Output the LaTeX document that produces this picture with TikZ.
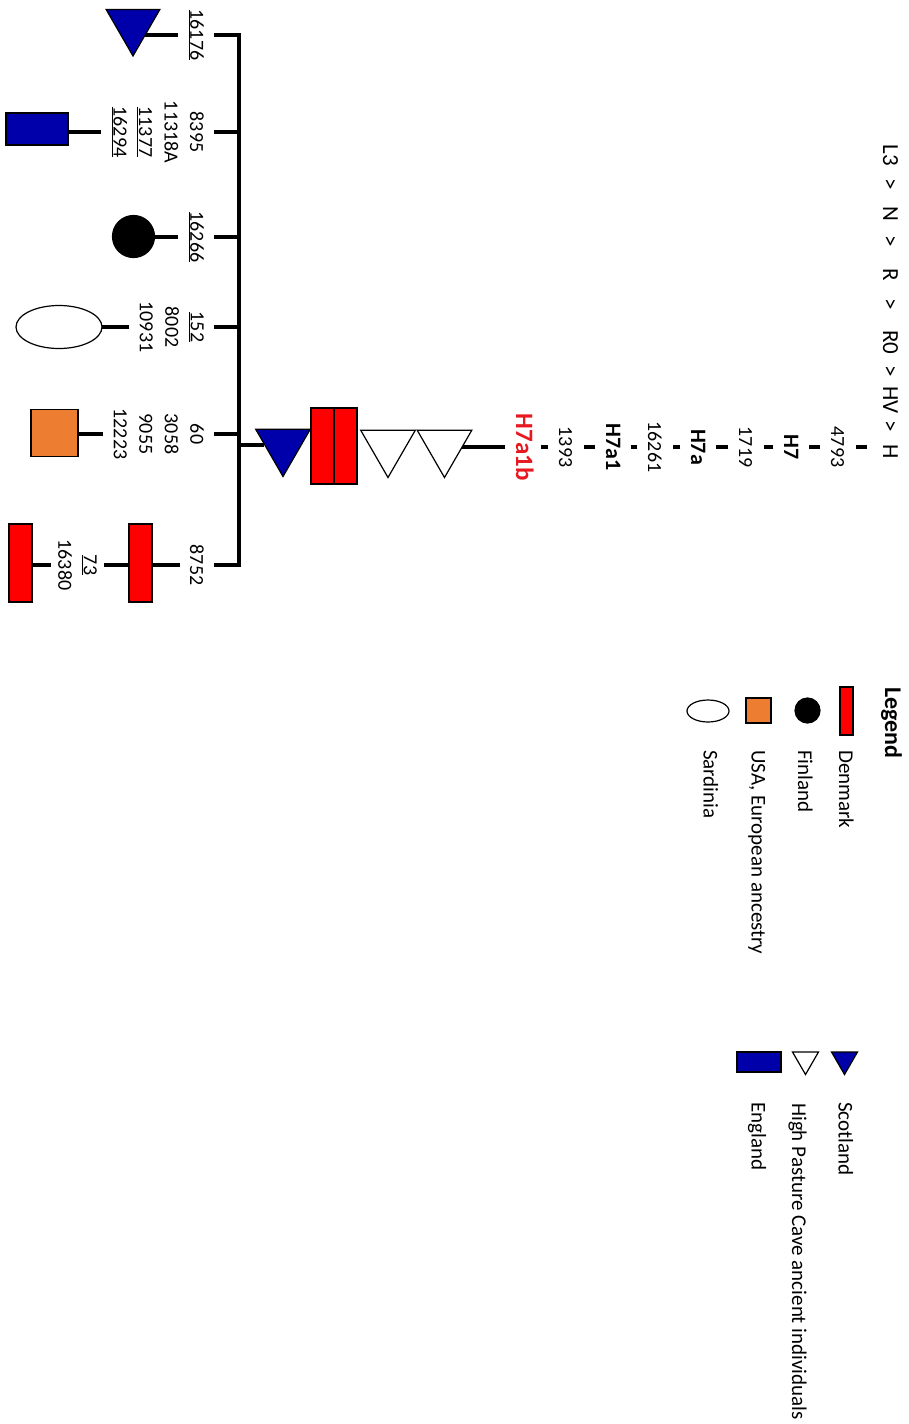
\documentclass[tikz,border=0pt]{standalone}
\usepackage{fontspec}
\setmainfont{Carlito}
\usetikzlibrary{shapes.geometric,backgrounds}

\definecolor{scotblue}{RGB}{0,0,170}
\definecolor{danred}{RGB}{255,0,0}
\definecolor{usaorange}{RGB}{237,125,49}
\definecolor{newred}{RGB}{232,24,32}

\tikzset{
  tree/.style={line width=3.8pt},
  outl/.style={draw=black,line width=1.2pt,inner sep=0pt},
  trinode/.style={outl,regular polygon,regular polygon sides=3,shape border rotate=-90,minimum size=63pt},
  boxnode/.style={outl,rectangle},
  dotnode/.style={outl,circle,fill=black},
  ovalnode/.style={outl,ellipse,fill=white},
  toplbl/.style={anchor=base,inner xsep=0pt,inner ysep=16pt,text depth=0pt,font=\fontsize{23}{28}\selectfont},
  chainlbl/.style={inner sep=0pt,minimum height=35pt,text height=14pt,text depth=0pt,font=\fontsize{20}{24}\selectfont},
  hglbl/.style={chainlbl,font=\fontsize{22}{26}\selectfont\bfseries},
  newhg/.style={chainlbl,text=newred,font=\fontsize{25}{30}\selectfont\bfseries},
  mutlbl/.style={anchor=north,align=center,inner xsep=0pt,inner ysep=10pt,font=\fontsize{20}{25.5}\selectfont},
  legtxt/.style={anchor=base west,inner sep=0pt,font=\fontsize{21}{25}\selectfont}
}

\begin{document}
\begin{tikzpicture}[rotate=-90,transform shape,x=1pt,y=1pt]
    \useasboundingbox (0,0) rectangle (1424,908);

    % path from L3 down to H
    \node[toplbl] (t1) at (155.5,883) {L3};
    \node[toplbl] (t2) at (184,883) {>};
    \node[toplbl] (t3) at (213.5,883) {N};
    \node[toplbl] (t4) at (241,883) {>};
    \node[toplbl] (t5) at (275,883) {R};
    \node[toplbl] (t6) at (304,883) {>};
    \node[toplbl] (t7) at (342.5,883) {R0};
    \node[toplbl] (t8) at (371,883) {>};
    \node[toplbl] (t9) at (400,883) {HV};
    \node[toplbl] (t10) at (426,883) {>};
    \node[toplbl] (tH) at (451.5,883) {H};

    % haplogroup chain
    \node[chainlbl] (c1) at (447,838) {4793};
    \node[hglbl] (c2) at (447,791) {H7};
    \node[chainlbl] (c3) at (447,746) {1719};
    \node[hglbl] (c4) at (447,698) {H7a};
    \node[chainlbl] (c5) at (447,655) {16261};
    \node[hglbl] (c6) at (447,613) {H7a1};
    \node[chainlbl] (c7) at (447,566) {1393};
    \node[newhg] (c8) at (447,523) {H7a1b};

    % shared root individuals
    \node[trinode,fill=white] (g1) at (446,444.5) {};
    \node[trinode,fill=white] (g2) at (446,388) {};
    \node[boxnode,fill=danred,minimum width=76pt,minimum height=23pt] (g3) at (446,345.5) {};
    \node[boxnode,fill=danred,minimum width=76pt,minimum height=23pt] (g4) at (446,322.5) {};
    \node[trinode,fill=scotblue] (g5) at (445,283) {};

    \coordinate (bar) at (0,239);

    % branches
    \node[mutlbl] (m1) at (35,214) {\underline{16176}};
    \node[mutlbl] (m2) at (132,214) {8395\\11318A\\\underline{11377}\\\underline{16294}};
    \node[mutlbl] (m3) at (237,214) {\underline{16266}};
    \node[mutlbl] (m4) at (327,214) {\underline{152}\\8002\\10931};
    \node[mutlbl] (m5) at (434,214) {60\\3058\\9055\\12223};
    \node[mutlbl] (m6) at (565,214) {8752};
    \node[mutlbl,inner ysep=7pt] (m7) at (565,104) {\underline{73}\\16380};

    \node[trinode,fill=scotblue,minimum size=62pt] (s1) at (25,133) {};
    \node[boxnode,fill=scotblue,minimum width=32pt,minimum height=62pt] (s2) at (129,37) {};
    \node[dotnode,minimum size=42pt] (s3) at (236.5,133.5) {};
    \node[ovalnode,minimum width=43pt,minimum height=86pt] (s4) at (327,59) {};
    \node[boxnode,fill=usaorange,minimum size=47pt] (s5) at (433,54.5) {};
    \node[boxnode,fill=danred,minimum width=78pt,minimum height=23pt] (s6) at (563,140.5) {};
    \node[boxnode,fill=danred,minimum width=78pt,minimum height=23pt] (s7) at (563,20.5) {};

    \begin{scope}[on background layer]
        \draw[tree] (c1) -- (c1 |- tH.south);
        \draw[tree] (c1) -- (c2);
        \draw[tree] (c2) -- (c3);
        \draw[tree] (c3) -- (c4);
        \draw[tree] (c4) -- (c5);
        \draw[tree] (c5) -- (c6);
        \draw[tree] (c6) -- (c7);
        \draw[tree] (c7) -- (c8);
        \draw[tree] (c8) -- (c8 |- g1);
        \draw[tree] (g5) -- (g5 |- bar);

        \draw[tree] (m1) -- (m1 |- bar) -- (m6 |- bar) -- (m6);
        \draw[tree] (m2 |- bar) -- (m2);
        \draw[tree] (m3 |- bar) -- (m3);
        \draw[tree] (m4 |- bar) -- (m4);
        \draw[tree] (m5 |- bar) -- (m5);

        \draw[tree] (m1) -- (m1 |- s1);
        \draw[tree] (m2) -- (m2 |- s2);
        \draw[tree] (m3) -- (m3 |- s3);
        \draw[tree] (m4) -- (m4 |- s4);
        \draw[tree] (m5) -- (m5 |- s5);
        \draw[tree] (m6) -- (m6 |- s6);
        \draw[tree] (m7) -- (m7 |- s6);
        \draw[tree] (m7) -- (m7 |- s7);
    \end{scope}

    % legend
    \node[legtxt,font=\fontsize{24}{28}\selectfont\bfseries] (leg) at (687,885) {Legend};
    \node[boxnode,fill=danred,minimum width=48pt,minimum height=13pt] (k1) at (711,846.5) {};
    \node[legtxt] (k1t) at (750,839) {Denmark};
    \node[dotnode,minimum size=25pt] (k2) at (710.5,807.5) {};
    \node[legtxt] (k2t) at (750,798) {Finland};
    \node[boxnode,fill=usaorange,minimum size=25pt] (k3) at (710.5,758.5) {};
    \node[legtxt] (k3t) at (750,751.5) {USA, European ancestry};
    \node[ovalnode,minimum width=22pt,minimum height=42pt] (k4) at (711,708) {};
    \node[legtxt] (k4t) at (750,703.5) {Sardinia};
    \node[trinode,fill=scotblue,minimum size=30pt] (k5) at (1059.5,844.5) {};
    \node[legtxt] (k5t) at (1102,838.5) {Scotland};
    \node[trinode,fill=white,minimum size=30pt] (k6) at (1059.5,805.5) {};
    \node[legtxt] (k6t) at (1103,792) {High Pasture Cave ancient individuals};
    \node[boxnode,fill=scotblue,minimum width=20pt,minimum height=44pt] (k7) at (1062,759) {};
    \node[legtxt] (k7t) at (1102,751.5) {England};
\end{tikzpicture}
\end{document}
